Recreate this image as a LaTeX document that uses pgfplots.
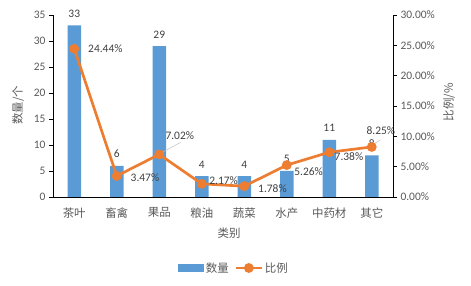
\documentclass[border=0pt]{standalone}
\usepackage{pgfplots}
\pgfplotsset{compat=1.18}
\usepackage{fontspec}
\setmainfont{Carlito}
\newfontfamily\cjk{Noto Sans CJK SC}
\definecolor{barblue}{HTML}{5B9BD5}
\definecolor{lineorange}{HTML}{ED7D31}
\definecolor{ticktxt}{HTML}{595959}
\definecolor{lbltxt}{HTML}{404040}
\newcommand{\nf}{\fontsize{11.5}{13}\selectfont}
\newcommand{\cf}{\cjk\fontsize{11.5}{13}\selectfont}
\begin{document}
\begin{tikzpicture}
\useasboundingbox (0,0) rectangle (471bp,286bp);
\begin{axis}[
  at={(53bp,89bp)}, anchor=south west, scale only axis,
  width=340bp, height=182bp,
  xmin=-0.5, xmax=7.5, ymin=0, ymax=35, ytick={0,5,...,35},
  axis x line*=bottom, axis y line*=left,
  axis line style={black, line width=0.8pt, -},
  xtick={0,...,7},
  xticklabels={茶叶,畜禽,果品,粮油,蔬菜,水产,中药材,其它},
  xticklabel style={font=\cf, text=ticktxt, yshift=-3bp},
  x tick style={draw=none},
  y tick style={black, line width=0.8pt},
  tick align=outside, major tick length=4bp,
  yticklabel style={font=\nf, text=ticktxt},
  /pgf/number format/assume math mode=true,
  xlabel={类别},
  xlabel style={font=\cf, text=ticktxt, at={(axis description cs:0.518,-0.198)}, anchor=center},
  ylabel={数量/个},
  ylabel style={font=\cf, text=ticktxt, at={(axis description cs:-0.103,0.505)}, anchor=center},
  ybar, bar width=13.5bp,
  nodes near coords,
  every node near coord/.append style={font=\nf, text=lbltxt, yshift=4.5bp},
  clip=false,
]
\addplot[fill=barblue, draw=none] coordinates {
  (0,33) (1,6) (2,29) (3,4) (4,4) (5,5) (6,11) (7,8)};
\end{axis}
\begin{axis}[
  at={(53bp,89bp)}, anchor=south west, scale only axis,
  width=340bp, height=182bp,
  xmin=-0.5, xmax=7.5, ymin=0, ymax=30, ytick={0,5,...,30},
  axis x line=none, axis y line*=right,
  axis line style={black, line width=0.8pt, -},
  y tick style={black, line width=0.8pt},
  tick align=outside, major tick length=4bp,
  yticklabel={\pgfmathprintnumber[fixed,fixed zerofill,precision=2]{\tick}\%},
  yticklabel style={font=\nf, text=ticktxt},
  /pgf/number format/assume math mode=true,
  ylabel={比例/\%},
  ylabel style={font=\cf, text=ticktxt, at={(axis description cs:1.165,0.52)}, anchor=center, rotate=0},
  clip=false,
  legend style={draw=none, fill=none, at={(axis description cs:0.532,-0.39)}, anchor=center,
    font=\cf, text=ticktxt, legend columns=2,
    /tikz/every even column/.append style={column sep=4bp}},
  legend image code/.code={\draw[lineorange, line width=2.7pt] (0cm,0cm) -- (0.9cm,0cm);
    \fill[lineorange] (0.45cm,0cm) circle (3.5bp);},
]
\addlegendimage{legend image code/.code={\fill[barblue] (0cm,-0.1cm) rectangle (0.9cm,0.12cm);}}
\addlegendentry{数量}
\addplot[lineorange, line width=2.7pt, mark=*, mark size=3.5bp, mark options={fill=lineorange, draw=lineorange}] coordinates {
  (0,24.44) (1,3.47) (2,7.02) (3,2.17) (4,1.78) (5,5.26) (6,7.38) (7,8.25)};
\addlegendentry{比例}
\draw[gray!50, line width=0.5pt] (axis cs:2.03,7.2) -- (axis cs:2.5,9.0);
\draw[gray!50, line width=0.5pt] (axis cs:7.02,8.6) -- (axis cs:7.2,9.4);
\node[anchor=west, font=\nf, text=lbltxt, inner sep=1bp] at (axis cs:0.3,24.44) {24.44\%};
\node[anchor=west, font=\nf, text=lbltxt, inner sep=1bp] at (axis cs:1.3,3.2) {3.47\%};
\node[anchor=west, font=\nf, text=lbltxt, inner sep=1bp] at (axis cs:2.12,10.1) {7.02\%};
\node[anchor=west, font=\nf, text=lbltxt, inner sep=1bp] at (axis cs:3.15,2.7) {2.17\%};
\node[anchor=west, font=\nf, text=lbltxt, inner sep=1bp] at (axis cs:4.3,1.4) {1.78\%};
\node[anchor=west, font=\nf, text=lbltxt, inner sep=1bp] at (axis cs:5.15,4.25) {5.26\%};
\node[anchor=west, font=\nf, text=lbltxt, inner sep=1bp] at (axis cs:6.1,6.7) {7.38\%};
\node[anchor=west, font=\nf, text=lbltxt, inner sep=1bp] at (axis cs:6.85,11.0) {8.25\%};
\end{axis}
\end{tikzpicture}
\end{document}
